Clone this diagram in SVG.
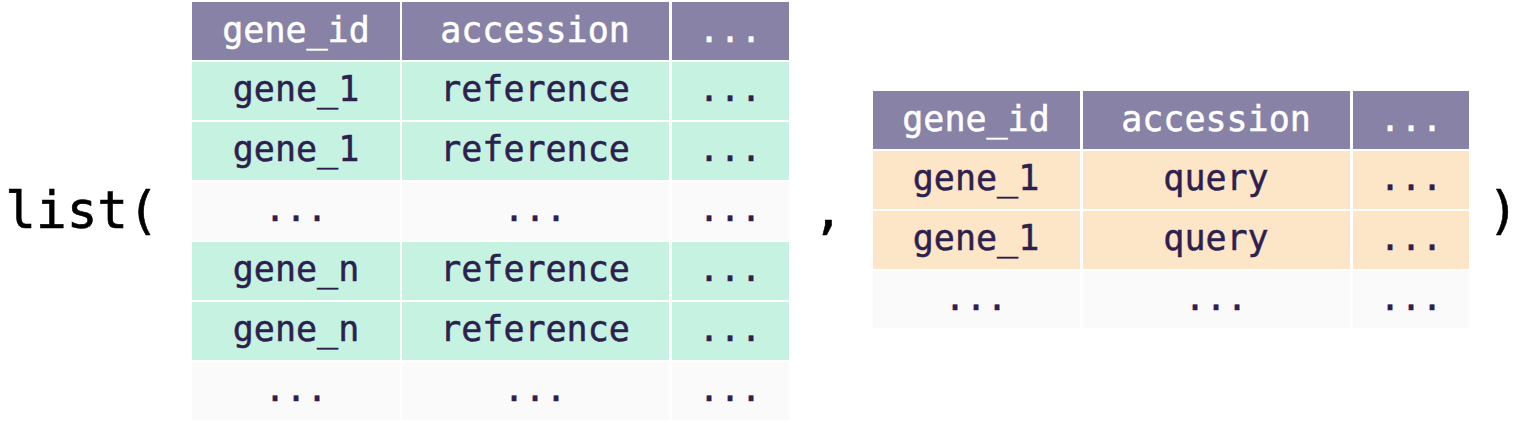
<svg xmlns="http://www.w3.org/2000/svg" width="1530" height="423" viewBox="0 0 1530 423">
<style>
.h{fill:#8882a6}
.t{fill:#c6f2e2}
.o{fill:#fde5c8}
.g{fill:#fafafa}
text{font-family:"DejaVu Sans Mono","Liberation Mono",monospace;text-anchor:middle}
.ht{fill:#ffffff;stroke:#ffffff;stroke-width:0.5px;font-size:35px}
.ct{fill:#2d1f4e;stroke:#2d1f4e;stroke-width:0.5px;font-size:35px}
.big{fill:#000000;stroke:#000000;stroke-width:0.6px;font-size:51px}
</style>
<rect width="1530" height="423" fill="#ffffff"/>
<g id="paren-open"><text class="big" x="82" y="228">list(</text></g>
<g id="table-reference">
  <rect class="h" x="192" y="2" width="208" height="58"/>
  <rect class="h" x="402" y="2" width="267" height="58"/>
  <rect class="h" x="672" y="2" width="117" height="58"/>
  <text class="ht" x="296" y="42">gene_id</text>
  <text class="ht" x="535" y="42">accession</text>
  <text class="ht" x="730" y="42">...</text>

  <rect class="t" x="192" y="62" width="208" height="58"/>
  <rect class="t" x="402" y="62" width="267" height="58"/>
  <rect class="t" x="672" y="62" width="117" height="58"/>
  <text class="ct" x="296" y="101">gene_1</text>
  <text class="ct" x="535" y="101">reference</text>
  <text class="ct" x="730" y="101">...</text>

  <rect class="t" x="192" y="122" width="208" height="58"/>
  <rect class="t" x="402" y="122" width="267" height="58"/>
  <rect class="t" x="672" y="122" width="117" height="58"/>
  <text class="ct" x="296" y="161">gene_1</text>
  <text class="ct" x="535" y="161">reference</text>
  <text class="ct" x="730" y="161">...</text>

  <rect class="g" x="192" y="182" width="208" height="58"/>
  <rect class="g" x="402" y="182" width="267" height="58"/>
  <rect class="g" x="672" y="182" width="117" height="58"/>
  <text class="ct" x="296" y="221">...</text>
  <text class="ct" x="535" y="221">...</text>
  <text class="ct" x="730" y="221">...</text>

  <rect class="t" x="192" y="242" width="208" height="58"/>
  <rect class="t" x="402" y="242" width="267" height="58"/>
  <rect class="t" x="672" y="242" width="117" height="58"/>
  <text class="ct" x="296" y="281">gene_n</text>
  <text class="ct" x="535" y="281">reference</text>
  <text class="ct" x="730" y="281">...</text>

  <rect class="t" x="192" y="302" width="208" height="58"/>
  <rect class="t" x="402" y="302" width="267" height="58"/>
  <rect class="t" x="672" y="302" width="117" height="58"/>
  <text class="ct" x="296" y="341">gene_n</text>
  <text class="ct" x="535" y="341">reference</text>
  <text class="ct" x="730" y="341">...</text>

  <rect class="g" x="192" y="362" width="208" height="58"/>
  <rect class="g" x="402" y="362" width="267" height="58"/>
  <rect class="g" x="672" y="362" width="117" height="58"/>
  <text class="ct" x="296" y="401">...</text>
  <text class="ct" x="535" y="401">...</text>
  <text class="ct" x="730" y="401">...</text>
</g>
<g id="comma"><text class="big" x="828" y="228">,</text></g>
<g id="table-query">
  <rect class="h" x="873" y="91" width="207" height="58"/>
  <rect class="h" x="1083" y="91" width="267" height="58"/>
  <rect class="h" x="1353" y="91" width="116" height="58"/>
  <text class="ht" x="976" y="131">gene_id</text>
  <text class="ht" x="1216" y="131">accession</text>
  <text class="ht" x="1411" y="131">...</text>

  <rect class="o" x="873" y="151" width="207" height="58"/>
  <rect class="o" x="1083" y="151" width="267" height="58"/>
  <rect class="o" x="1353" y="151" width="116" height="58"/>
  <text class="ct" x="976" y="190">gene_1</text>
  <text class="ct" x="1216" y="190">query</text>
  <text class="ct" x="1411" y="190">...</text>

  <rect class="o" x="873" y="211" width="207" height="58"/>
  <rect class="o" x="1083" y="211" width="267" height="58"/>
  <rect class="o" x="1353" y="211" width="116" height="58"/>
  <text class="ct" x="976" y="250">gene_1</text>
  <text class="ct" x="1216" y="250">query</text>
  <text class="ct" x="1411" y="250">...</text>

  <rect class="g" x="873" y="271" width="207" height="57"/>
  <rect class="g" x="1083" y="271" width="267" height="57"/>
  <rect class="g" x="1353" y="271" width="116" height="57"/>
  <text class="ct" x="976" y="310">...</text>
  <text class="ct" x="1216" y="310">...</text>
  <text class="ct" x="1411" y="310">...</text>
</g>
<g id="paren-close"><text class="big" x="1503" y="228">)</text></g>
<g id="connectors"></g>
</svg>
